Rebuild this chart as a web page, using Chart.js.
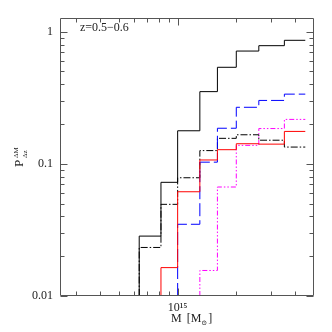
<!DOCTYPE html>
<html>
<head>
<meta charset="utf-8">
<script src="https://cdn.jsdelivr.net/npm/chart.js@4.4.0/dist/chart.umd.min.js"></script>
<style>
    html, body { margin: 0; padding: 0; background: #fff; }
    canvas { display: block; }
</style>
</head>
<body>
<canvas id="chart" width="332" height="332"></canvas>
<script>
// ---- Data (masses in units of 10^15 M_sun) ---------------------------------
const massEdges = [0.635, 0.821, 1.0, 1.30, 1.60, 2.0, 2.61, 3.53, 4.52];

const solidBlack   = [0.0284, 0.0725, 0.178, 0.352, 0.538, 0.714, 0.784, 0.861];
const dashDotBlack = [0.0233, 0.0494, 0.0785, 0.126, 0.156, 0.166, 0.151, 0.134];
const redSolid     = [0, 0.0164, 0.0615, 0.107, 0.128, 0.142, 0.141, 0.176];
const blueDashed   = [0, 0, 0.0349, 0.103, 0.186, 0.268, 0.302, 0.337];
const magentaDots  = [0, 0, 0, 0.0156, 0.0668, 0.138, 0.185, 0.217];

const yTickValues = [0.01, 0.1, 1];
const yTickLabels = ['0.01', '0.1', '1'];
const xTickValues = [1];
const xTickLabels = ['10\u00b9\u2075'];

const X_MIN = 0.249, X_MAX = 5.01;
const Y_MIN = 0.01, Y_MAX = 1.27;
const SERIF = "'Liberation Serif', 'DejaVu Serif', serif";

// turn bin values into step points; empty bins sit on the axis floor
function histPoints(vals) {
    const first = vals.findIndex(v => v > 0);
    const pts = [{ x: massEdges[first], y: Y_MIN }];
    for (let i = first; i < vals.length; i++) pts.push({ x: massEdges[i], y: vals[i] });
    pts.push({ x: massEdges[massEdges.length - 1], y: vals[vals.length - 1] });
    return pts;
}

function series(vals, color, dash) {
    return {
        data: histPoints(vals),
        borderColor: color,
        borderWidth: 1,
        borderDash: dash,
        stepped: 'before',
        pointRadius: 0,
        fill: false,
        tension: 0,
    };
}

// ---- Frame, inward ticks and labels -------------------------------------
function minorValues(decades, lo, hi) {
    const out = [];
    decades.forEach(d => {
        for (let k = 1; k <= 9; k++) {
            const v = k * d;
            if (v >= lo && v <= hi) out.push({ v, major: k === 1 });
        }
    });
    return out;
}

const decorations = {
    id: 'decorations',
    afterDatasetsDraw(chart) {
        const { ctx, chartArea: a, scales: { x, y } } = chart;
        const L = Math.round(a.left) + 0.5, R = Math.round(a.right) - 0.5;
        const T = Math.round(a.top) + 0.5, B = Math.round(a.bottom) - 0.5;
        ctx.save();
        ctx.strokeStyle = '#555';
        ctx.lineWidth = 1;
        ctx.beginPath();
        ctx.rect(L, T, R - L, B - T);

        minorValues([0.01, 0.1, 1], Y_MIN, Y_MAX).forEach(t => {
            const py = Math.round(y.getPixelForValue(t.v)) + 0.5;
            const len = t.major ? 7 : 4;
            ctx.moveTo(L, py); ctx.lineTo(L + len, py);
            ctx.moveTo(R, py); ctx.lineTo(R - len, py);
        });
        minorValues([0.1, 1], X_MIN, X_MAX - 0.1).forEach(t => {
            const px = Math.round(x.getPixelForValue(t.v)) + 0.5;
            const len = t.major ? 7 : 4;
            ctx.moveTo(px, B); ctx.lineTo(px, B - len);
            ctx.moveTo(px, T); ctx.lineTo(px, T + len);
        });
        ctx.stroke();

        ctx.fillStyle = '#222';
        ctx.textBaseline = 'alphabetic';

        // redshift label
        ctx.font = '12px ' + SERIF;
        ctx.fillText('z=0.5\u22120.6', 80, 31);

        // x title: M [M_sun]
        let cx = 171;
        const by = 322;
        ctx.font = '12px ' + SERIF;
        ctx.fillText('M', cx, by);
        cx += ctx.measureText('M').width + 5;
        ctx.fillText('[M', cx, by);
        cx += ctx.measureText('[M').width;
        ctx.font = '7px ' + SERIF;
        ctx.fillText('\u2299', cx, by + 3);
        cx += ctx.measureText('\u2299').width + 1;
        ctx.font = '12px ' + SERIF;
        ctx.fillText(']', cx, by);

        // y title: P^{dM}_{dz}
        ctx.translate(23, 167);
        ctx.rotate(-Math.PI / 2);
        ctx.font = '13px ' + SERIF;
        ctx.fillText('P', 0, 0);
        ctx.font = '7px ' + SERIF;
        ctx.fillText('\u0394M', 9, -5);
        ctx.fillText('\u0394z', 9, 4);
        ctx.restore();
    }
};

// ---- Chart ----------------------------------------------------------------
new Chart(document.getElementById('chart'), {
    type: 'line',
    data: {
        datasets: [
            series(solidBlack, '#000000', []),
            series(redSolid, '#ff0000', []),
            series(blueDashed, '#0000ff', [13, 4]),
            series(dashDotBlack, '#000000', [7, 2, 1.5, 2]),
            series(magentaDots, '#ff00ff', [5, 2, 1.5, 2, 1.5, 2]),
        ]
    },
    options: {
        responsive: false,
        animation: false,
        devicePixelRatio: 1,
        layout: { padding: { left: 0, right: 18, top: 18, bottom: 0 } },
        plugins: { legend: { display: false }, tooltip: { enabled: false } },
        scales: {
            x: {
                type: 'logarithmic',
                min: X_MIN,
                max: X_MAX,
                grid: { display: false, drawTicks: false },
                border: { display: false },
                afterBuildTicks: s => { s.ticks = xTickValues.map(v => ({ value: v })); },
                afterFit: s => { s.height = 36; },
                ticks: {
                    autoSkip: false,
                    maxRotation: 0,
                    padding: 5,
                    color: '#222',
                    font: { family: SERIF, size: 12 },
                    callback: v => xTickLabels[xTickValues.indexOf(v)] ?? '',
                },
            },
            y: {
                type: 'logarithmic',
                min: Y_MIN,
                max: Y_MAX,
                grid: { display: false, drawTicks: false },
                border: { display: false },
                afterBuildTicks: s => { s.ticks = yTickValues.map(v => ({ value: v })); },
                afterFit: s => { s.width = 60; },
                ticks: {
                    autoSkip: false,
                    padding: 7,
                    color: '#222',
                    font: { family: SERIF, size: 12 },
                    callback: v => yTickLabels[yTickValues.indexOf(v)] ?? '',
                },
            },
        },
    },
    plugins: [decorations],
});
</script>
</body>
</html>
